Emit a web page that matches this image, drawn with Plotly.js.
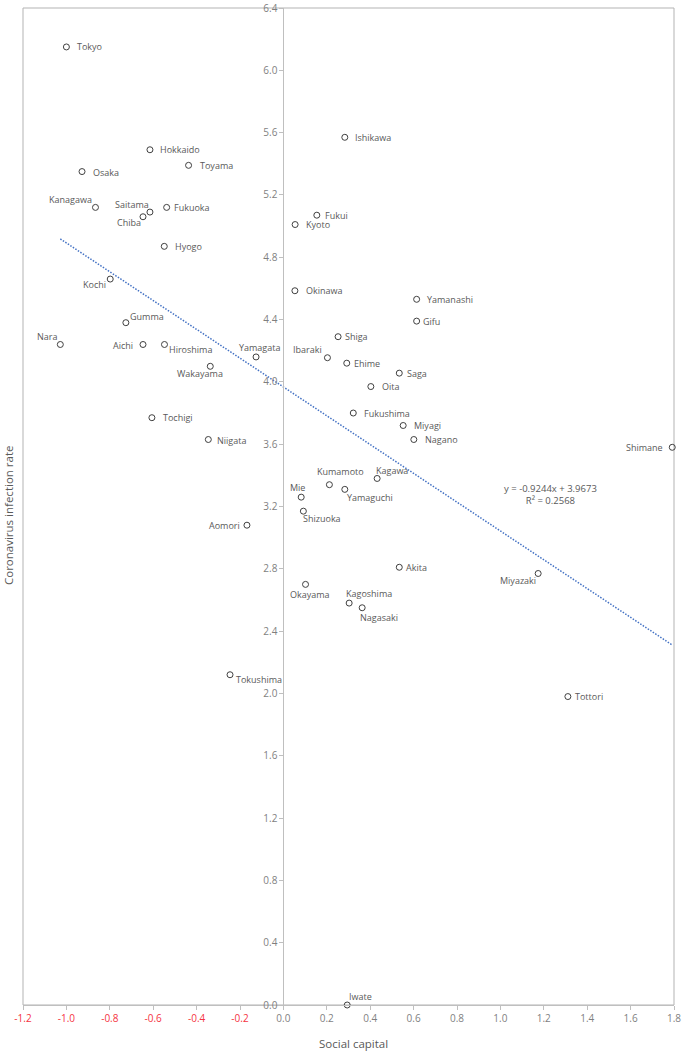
<!DOCTYPE html>
<html>
<head>
<meta charset="utf-8">
<script src="https://cdn.plot.ly/plotly-3.0.1.min.js"></script>
<style>
html,body{margin:0;padding:0;background:#fff;}
#chart{width:683px;height:1052px;}
</style>
</head>
<body>
<div id="chart"></div>
<script>
// ---- Data ----
var prefectures = ["Tokyo","Hokkaido","Toyama","Osaka","Kanagawa","Saitama","Chiba","Fukuoka","Hyogo","Kochi",
  "Gumma","Nara","Aichi","Hiroshima","Wakayama","Yamagata","Tochigi","Niigata","Ibaraki","Okinawa",
  "Ishikawa","Fukui","Kyoto","Yamanashi","Gifu","Shiga","Ehime","Saga","Oita","Fukushima",
  "Miyagi","Nagano","Shimane","Kumamoto","Kagawa","Mie","Yamaguchi","Shizuoka","Aomori","Akita",
  "Miyazaki","Okayama","Kagoshima","Nagasaki","Tokushima","Tottori","Iwate"];
var socialCapital = [-1.000,-0.615,-0.437,-0.928,-0.866,-0.615,-0.647,-0.538,-0.549,-0.798,
  -0.726,-1.028,-0.647,-0.548,-0.337,-0.126,-0.606,-0.346,0.203,0.053,
  0.283,0.154,0.054,0.614,0.614,0.252,0.292,0.534,0.403,0.322,
  0.552,0.601,1.792,0.212,0.432,0.082,0.283,0.092,-0.168,0.534,
  1.174,0.102,0.303,0.363,-0.246,1.311,0.294];
var infectionRate = [6.15,5.49,5.39,5.35,5.12,5.09,5.06,5.12,4.87,4.66,
  4.38,4.24,4.24,4.24,4.10,4.16,3.77,3.63,4.155,4.585,
  5.57,5.07,5.01,4.53,4.39,4.29,4.12,4.056,3.97,3.80,
  3.72,3.63,3.58,3.34,3.38,3.26,3.31,3.17,3.08,2.81,
  2.77,2.70,2.58,2.55,2.12,1.98,0.00];
var trendSlope = -0.9244;
var trendIntercept = 3.9673;
var trendR2 = 0.2568;
var xTickValues = [-1.2,-1.0,-0.8,-0.6,-0.4,-0.2,0.0,0.2,0.4,0.6,0.8,1.0,1.2,1.4,1.6,1.8];
var xTickLabels = ["-1.2","-1.0","-0.8","-0.6","-0.4","-0.2","0.0","0.2","0.4","0.6","0.8","1.0","1.2","1.4","1.6","1.8"];
var xAxisTitle = "Social capital";
var yAxisTitle = "Coronavirus infection rate";

// ---- Label placement (style only): [anchor, dx px, dy px (down)] ----
var labelPlace = [["l",10,0],["l",9,0],["l",10,0],["l",10,1],["r",-2,-8],["r",0,-8],["r",-1,6],["l",6,0],["l",10,0],["r",-3,5],
  ["l",3,-6],["r",-2,-8],["r",-9,1],["l",4,5],["c",-10,7],["c",3,-9],["l",10,0],["l",8,1],["r",-4,-8],["l",10,0],
  ["l",9,0],["l",7,0],["l",10,0],["l",9,0],["l",5,0],["l",6,0],["l",6,0],["l",7,0],["l",10,0],["l",10,0],
  ["l",10,0],["l",10,0],["r",-8,0],["l",-13,-13],["l",-2,-8],["r",5,-10],["l",1,8],["l",-1,7],["r",-6,0],["l",6,0],
  ["r",-1,7],["c",4,10],["l",-4,-10],["l",-3,10],["l",5,5],["l",6,0],["l",1,-9]];

var grey = "#595959";
var red = "#F5333F";
var fontFam = "Open Sans, Noto Sans, sans-serif";

var tickText = xTickLabels.map(function(t, i){
  var c = xTickValues[i] < 0 ? red : "#7f7f7f";
  return '<span style="color:' + c + '">' + t + '</span>';
});

var xMin = Math.min.apply(null, socialCapital);
var xMax = Math.max.apply(null, socialCapital);

var traces = [
  {
    x: [xMin, xMax], y: [trendSlope*xMin + trendIntercept, trendSlope*xMax + trendIntercept],
    type: "scatter", mode: "lines",
    line: {color: "#4472C4", width: 1.5, dash: "1.5px,1.5px"},
    hoverinfo: "skip", showlegend: false
  },
  {
    x: socialCapital, y: infectionRate, type: "scatter", mode: "markers",
    marker: {symbol: "circle-open", size: 6, color: "#404040", line: {width: 1, color: "#404040"}},
    cliponaxis: false, hoverinfo: "skip", showlegend: false
  }
];

var L = 23, R = 9, T = 8, B = 47, W = 683, H = 1052;
var pw = W - L - R, ph = H - T - B;

var anchorMap = {l: "left", r: "right", c: "center"};
var annotations = prefectures.map(function(name, i){
  var p = labelPlace[i];
  var sh = p[0] === "l" ? -1 : (p[0] === "r" ? 1 : 0);
  return {
    x: socialCapital[i], y: infectionRate[i], xref: "x", yref: "y",
    text: name, showarrow: false,
    xanchor: anchorMap[p[0]], yanchor: "middle",
    xshift: p[1] + sh, yshift: -p[2],
    font: {family: fontFam, size: 9, color: grey}
  };
});
annotations.push({
  x: 1.23, y: 3.28, xref: "x", yref: "y", showarrow: false,
  text: "y = " + trendSlope + "x + " + trendIntercept + "<br>R² = " + trendR2,
  align: "center", xanchor: "center", yanchor: "middle",
  font: {family: fontFam, size: 9.5, color: grey}
});
annotations.push({
  x: (353 - L) / pw, y: 1 - (1043 - T) / ph, xref: "paper", yref: "paper", showarrow: false,
  text: xAxisTitle, xanchor: "center", yanchor: "middle",
  font: {family: fontFam, size: 11.5, color: grey}
});
annotations.push({
  x: (8 - L) / pw, y: 1 - (515 - T) / ph, xref: "paper", yref: "paper", showarrow: false,
  text: yAxisTitle, textangle: -90, xanchor: "center", yanchor: "middle",
  font: {family: fontFam, size: 11.5, color: grey}
});

var layout = {
  width: W, height: H,
  margin: {l: L, r: R, t: T, b: B, pad: 0},
  paper_bgcolor: "#fff", plot_bgcolor: "#fff",
  font: {family: fontFam, color: "#7f7f7f"},
  showlegend: false,
  xaxis: {
    range: [-1.2, 1.8], tickmode: "array", tickvals: xTickValues, ticktext: tickText,
    showgrid: false, zeroline: false, showline: true, linecolor: "#bfbfbf", linewidth: 1,
    ticks: "outside", ticklen: 4, tickcolor: "#bfbfbf", tickfont: {size: 10}, fixedrange: true
  },
  yaxis: {
    range: [0, 6.4], dtick: 0.4, tick0: 0, tickformat: ".1f",
    anchor: "free", position: 1.2/3,
    showgrid: false, zeroline: false, showline: true, linecolor: "#bfbfbf", linewidth: 1,
    ticks: "outside", ticklen: 4, tickcolor: "#bfbfbf", tickfont: {size: 10}, fixedrange: true
  },
  shapes: [
    {type: "rect", xref: "paper", yref: "paper", x0: 0, x1: 1, y0: 0, y1: 1,
     line: {color: "#b3b3b3", width: 1}, fillcolor: "rgba(0,0,0,0)", layer: "below"}
  ],
  annotations: annotations
};

Plotly.newPlot("chart", traces, layout, {displayModeBar: false, staticPlot: true});
</script>
</body>
</html>
